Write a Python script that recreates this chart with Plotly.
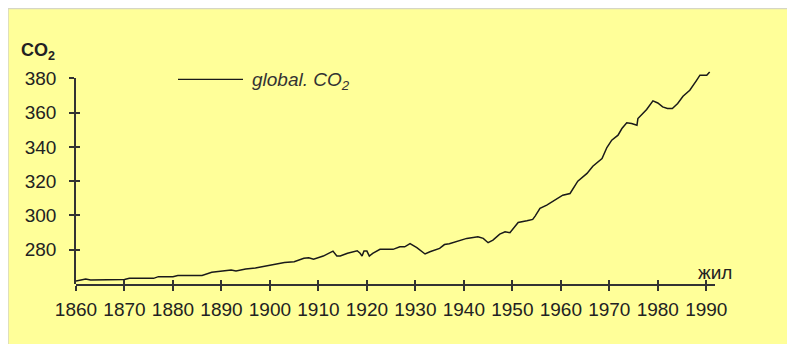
import plotly.graph_objects as go

# ---- data ----
years = [1860, 1862, 1863, 1870, 1871, 1876, 1877, 1880, 1881, 1885, 1886, 1888, 1890,
         1892, 1893, 1895, 1897, 1900, 1903, 1905, 1907, 1908, 1909, 1911, 1912, 1913,
         1913.8, 1914.5, 1916, 1917, 1918, 1918.6, 1919, 1919.4, 1920, 1920.5, 1921.2,
         1922.7, 1925.4, 1926.8, 1927.8, 1928.9, 1930.3, 1932, 1933, 1935, 1936, 1937,
         1938.8, 1940.6, 1942.9, 1944, 1945, 1946, 1947.4, 1948.5, 1949.5, 1950.5,
         1951.2, 1953, 1954.2, 1954.7, 1955.7, 1957.1, 1959.2, 1960.4, 1961.9, 1962.5,
         1963.5, 1965.4, 1966.6, 1968.5, 1969.5, 1970.5, 1971.8, 1972.6, 1973.6, 1974.6,
         1975.7, 1975.9, 1977.7, 1979, 1980, 1981, 1982, 1983, 1984.1, 1985.2, 1986.6,
         1988, 1988.7, 1990.1, 1990.7]
co2 = [261.7, 262.9, 262.4, 262.6, 263.3, 263.3, 264.3, 264.3, 265.0, 265.2, 265.0, 266.8,
       267.5, 268.2, 267.6, 268.8, 269.3, 270.9, 272.5, 273.0, 275.0, 275.3, 274.4, 276.3,
       277.9, 279.2, 276.3, 276.3, 277.9, 278.6, 279.4, 277.9, 276.3, 279.2, 279.2, 276.3,
       277.9, 280.2, 280.2, 281.7, 281.7, 283.5, 281.2, 277.5, 278.8, 280.8, 283.0, 283.5,
       285.2, 286.6, 287.6, 286.6, 284.1, 285.6, 289.1, 290.5, 289.9, 293.4, 295.9, 296.9,
       297.7, 299.6, 304.1, 306.0, 309.5, 311.8, 312.8, 315.8, 320.0, 324.5, 328.7, 333.2,
       339.6, 343.9, 346.8, 350.7, 354.0, 353.6, 352.6, 356.5, 361.8, 366.8, 365.6, 363.3,
       362.4, 362.4, 365.3, 369.5, 373.0, 378.8, 381.8, 381.8, 383.7]
x_ticks = [1860, 1870, 1880, 1890, 1900, 1910, 1920, 1930, 1940, 1950, 1960, 1970, 1980, 1990]
y_ticks = [280, 300, 320, 340, 360, 380]
series_name = "global. CO<sub>2</sub>"
y_title = "<b>CO<sub>2</sub></b>"
x_title = "жил"

# ---- layout geometry (figure pixels; page adds an 8px body margin) ----
W, H = 795, 344
OFF = 8
L, R = 76 - OFF, 715 - OFF          # x axis spans 1860 .. 1991.8
B, T380 = 284 - OFF, 78 - OFF       # y: 260 at B, 380 at T380
X_RANGE = [1860, 1991.8]
Y_AXIS_RANGE = [260, 380]
Y_DATA_TOP = 386                    # headroom so the curve can rise above the 380 tick
ppu = (B - T380) / (Y_AXIS_RANGE[1] - Y_AXIS_RANGE[0])
T = B - (Y_DATA_TOP - Y_AXIS_RANGE[0]) * ppu
AX_DOMAIN_TOP = (Y_AXIS_RANGE[1] - Y_AXIS_RANGE[0]) / (Y_DATA_TOP - Y_AXIS_RANGE[0])
YELLOW = "#FFFF99"
INK = "#222222"
AXC = "#333333"
FONT = "Liberation Sans"


def px(x, y):
    """reference-picture pixel -> paper coordinate"""
    return (x - OFF - L) / (R - L), (B - (y - OFF)) / (B - T)


fig = go.Figure()
# empty traces that carry the visible y axis and the inside halves of the ticks
fig.add_trace(go.Scatter(x=[None], y=[None], yaxis="y2", showlegend=False, hoverinfo="skip"))
fig.add_trace(go.Scatter(x=[None], y=[None], xaxis="x2", yaxis="y3", showlegend=False,
                         hoverinfo="skip"))
fig.add_trace(go.Scatter(x=years, y=co2, mode="lines", name=series_name,
                         line=dict(color="#1a1a1a", width=1.5), showlegend=False))

tickfont = dict(family=FONT, size=19, color=INK)
inside = dict(ticks="inside", ticklen=4, tickwidth=1.5, tickcolor=AXC, showticklabels=False,
              showline=False, showgrid=False, zeroline=False)
fig.update_layout(
    width=W, height=H,
    margin=dict(l=L, r=W - R, t=T, b=H - B, pad=0),
    paper_bgcolor=YELLOW, plot_bgcolor="rgba(0,0,0,0)",
    xaxis=dict(range=X_RANGE, tickvals=x_ticks, ticktext=[str(v) for v in x_ticks],
               ticks="outside", ticklen=5, ticklabelstandoff=2, anchor="y",
               showgrid=False, zeroline=False, showline=True, linecolor=AXC, linewidth=1.5,
               tickcolor=AXC, tickwidth=1.5, tickfont=tickfont),
    yaxis=dict(range=[Y_AXIS_RANGE[0], Y_DATA_TOP], visible=False, domain=[0, 1]),
    yaxis2=dict(range=Y_AXIS_RANGE, domain=[0, AX_DOMAIN_TOP], anchor="x", tickvals=y_ticks,
                ticks="outside", ticklen=5, ticklabelstandoff=9, showgrid=False,
                zeroline=False, showline=True, linecolor=AXC, linewidth=1.5,
                tickcolor=AXC, tickwidth=1.5, tickfont=tickfont),
    xaxis2=dict(range=X_RANGE, overlaying="x", anchor="y3", tickvals=x_ticks, **inside),
    yaxis3=dict(range=Y_AXIS_RANGE, overlaying="y2", anchor="x2", tickvals=y_ticks, **inside),
    showlegend=False,
)

# thin frame edge seen at the page border
fig.add_shape(type="rect", xref="paper", yref="paper",
              x0=-L / (R - L), x1=(W - L) / (R - L), y0=-(H - B) / (B - T), y1=1 + T / (B - T),
              line=dict(color="#d6d6c4", width=1.5), layer="below")

# legend sample line + label
lx0, ly = px(178, 79)
lx1, _ = px(243, 79)
fig.add_shape(type="line", xref="paper", yref="paper", x0=lx0, x1=lx1, y0=ly, y1=ly,
              line=dict(color="#1a1a1a", width=1.3))
tx, ty = px(250, 81)
fig.add_annotation(xref="paper", yref="paper", x=tx, y=ty, text="<i>" + series_name + "</i>",
                   showarrow=False, xanchor="left", yanchor="middle",
                   font=dict(family=FONT, size=19, color="#333333"))
# axis titles
cx, cy = px(38, 51)
fig.add_annotation(xref="paper", yref="paper", x=cx, y=cy, text=y_title, showarrow=False,
                   xanchor="center", yanchor="middle",
                   font=dict(family=FONT, size=18, color=INK))
jx, jy = px(715, 272)
fig.add_annotation(xref="paper", yref="paper", x=jx, y=jy, text=x_title, showarrow=False,
                   xanchor="center", yanchor="middle",
                   font=dict(family=FONT, size=19, color=INK))

fig.write_html("out.html")
